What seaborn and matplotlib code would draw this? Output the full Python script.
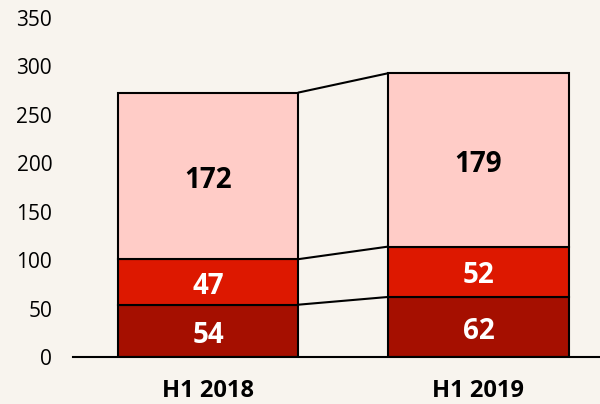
import numpy as np
import pandas as pd
import matplotlib.pyplot as plt
import seaborn as sns

# ========== DATA ==========
periods = ["H1 2018", "H1 2019"]
bottom_vals = [54, 62]
middle_vals = [47, 52]
top_vals = [172, 179]

seg_names = ["bottom", "middle", "top"]
seg_values = [bottom_vals, middle_vals, top_vals]
seg_colors = ["#A50F00", "#DD1800", "#FFCCC7"]
label_colors = ["white", "white", "black"]

bg = "#F8F4EE"

# ========== PLOT ==========
sns.set_theme(style="white")
plt.rcParams["font.family"] = ["Open Sans", "DejaVu Sans"]

fig = plt.figure(figsize=(6, 4.04), dpi=100, facecolor=bg)
ax = fig.add_axes([73 / 600, 1 - 357 / 404, 1 - 73 / 600, 339 / 404])
ax.set_facecolor(bg)

base = np.zeros(len(periods))
tops = []
for name, vals, col, lc in zip(seg_names, seg_values, seg_colors, label_colors):
    df = pd.DataFrame({"period": periods, "value": vals})
    n_before = len(ax.patches)
    sns.barplot(data=df, x="period", y="value", bottom=base, color=col,
                width=0.667, edgecolor="black", linewidth=1.5, ax=ax,
                saturation=1)
    for p, v, b in zip(ax.patches[n_before:], vals, base):
        ax.annotate(str(v), (p.get_x() + p.get_width() / 2, b + v / 2),
                    xytext=(0, -3), textcoords="offset points",
                    ha="center", va="center", fontsize=20, fontweight="bold",
                    color=lc)
    base = base + np.array(vals)
    tops.append(base.copy())

# connector lines between bars
w = 0.667
for t in tops:
    ax.plot([0 + w / 2, 1 - w / 2], [t[0], t[1]], color="black", lw=1.5,
            zorder=0.5)

ax.set_xlim(-0.5, 1.45)
ax.set_ylim(0, 350)
ax.set_yticks(range(0, 351, 50))
ax.set_xlabel("")
ax.set_ylabel("")
ax.tick_params(axis="y", labelsize=15, length=0, pad=15, labelcolor="black")
ax.tick_params(axis="x", labelsize=17, length=0, pad=16, labelcolor="black")
for lab in ax.get_xticklabels():
    lab.set_fontweight("bold")
for s in ["top", "right", "left"]:
    ax.spines[s].set_visible(False)
ax.spines["bottom"].set_color("black")
ax.spines["bottom"].set_linewidth(1.5)

fig.savefig("out.png", facecolor=bg)
plt.close()
